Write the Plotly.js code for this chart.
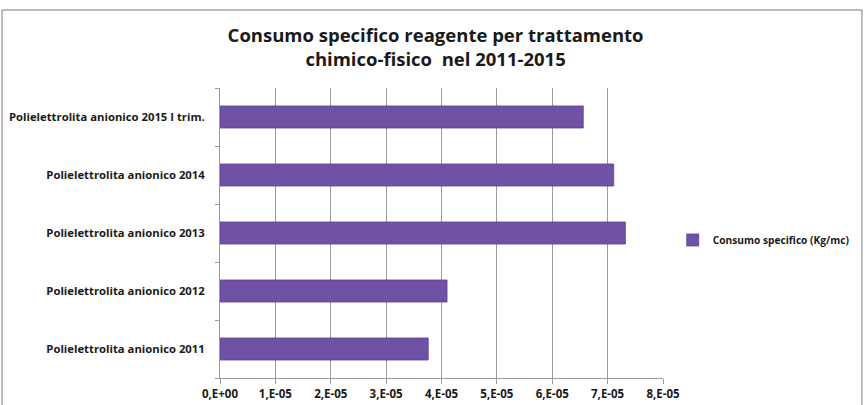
<!DOCTYPE html>
<html>
<head>
<meta charset="utf-8">
<script src="https://cdn.plot.ly/plotly-3.0.1.min.js"></script>
<style>html,body{margin:0;padding:0;background:#fff;}#chart{width:866px;height:405px;}</style>
</head>
<body>
<div id="chart"></div>
<script>
const categories = [
  "Polielettrolita anionico 2011",
  "Polielettrolita anionico 2012",
  "Polielettrolita anionico 2013",
  "Polielettrolita anionico 2014",
  "Polielettrolita anionico 2015 I trim."
];
const values = [3.76e-5, 4.10e-5, 7.32e-5, 7.11e-5, 6.56e-5];
const seriesName = "Consumo specifico (Kg/mc)";
const xTickVals = [0, 1e-5, 2e-5, 3e-5, 4e-5, 5e-5, 6e-5, 7e-5, 8e-5];
const xTickText = ["0,E+00", "1,E-05", "2,E-05", "3,E-05", "4,E-05", "5,E-05", "6,E-05", "7,E-05", "8,E-05"];

const fontFam = "'Open Sans', 'Noto Sans', sans-serif";

Plotly.newPlot("chart", [{
  type: "bar",
  orientation: "h",
  y: categories,
  x: values,
  name: seriesName,
  width: 0.38,
  marker: {color: "#6F51A6", line: {color: "#5E4294", width: 0.8}},
  showlegend: true,
  hoverinfo: "x+y"
}], {
  width: 866, height: 405,
  margin: {l: 220, r: 203, t: 88, b: 27, pad: 0, autoexpand: false},
  paper_bgcolor: "#ffffff",
  plot_bgcolor: "#ffffff",
  title: {
    text: "<b>Consumo specifico reagente per trattamento<br>chimico-fisico  nel 2011-2015</b>",
    font: {family: fontFam, size: 18.5, color: "#1a1a1a"},
    x: 0.503, xanchor: "center",
    y: 0.897, yanchor: "middle"
  },
  xaxis: {
    range: [0, 8e-5],
    tickvals: xTickVals,
    ticktext: xTickText,
    showgrid: true, gridcolor: "#9a9a9a", gridwidth: 1,
    zeroline: false,
    showline: true, linecolor: "#9a9a9a", linewidth: 1,
    ticks: "outside", ticklen: 5, tickcolor: "#9a9a9a",
    tickfont: {family: fontFam, size: 11.5, color: "#1a1a1a", weight: "bold"},
    fixedrange: true
  },
  yaxis: {
    type: "category",
    categoryorder: "array",
    categoryarray: categories,
    showgrid: false,
    zeroline: false,
    showline: true, linecolor: "#9a9a9a", linewidth: 1,
    ticks: "outside", ticklen: 4, tickcolor: "#9a9a9a",
    tickson: "boundaries",
    ticklabelstandoff: 12,
    tickfont: {family: fontFam, size: 11.3, color: "#1a1a1a", weight: "bold"},
    fixedrange: true
  },
  legend: {
    x: 1.022, y: 0.476, xanchor: "left", yanchor: "middle",
    font: {family: fontFam, size: 10.2, color: "#1a1a1a", weight: "bold"},
    itemwidth: 30,
    bgcolor: "rgba(0,0,0,0)"
  },
  shapes: [{
    type: "rect", xref: "paper", yref: "paper",
    x0: -0.492, x1: 1.449, y0: -0.2, y1: 1.269,
    line: {color: "#a8a8a8", width: 1.5}
  }],
  bargap: 0.62
}, {displayModeBar: false, staticPlot: true});
</script>
</body>
</html>
